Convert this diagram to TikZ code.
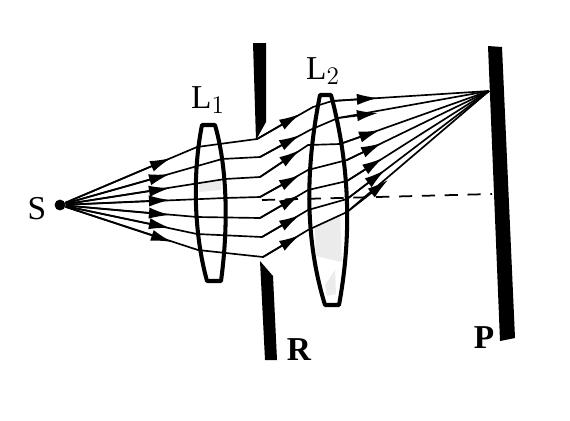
\documentclass[tikz,border=0pt]{standalone}
\usepackage{fontspec}
\setmainfont{Liberation Serif}
\usetikzlibrary{arrows.meta}
\tikzset{
    ray/.style={black, line width=0.95pt},
    raytip/.style={black, line width=0.95pt, -{Latex[length=12pt,width=6.4pt]}},
    lens/.style={draw=black, line width=2.3pt, line join=round, fill=white},
    stop/.style={fill=black, draw=none},
    patch/.style={fill=gray!16, draw=none},
    label/.style={font=\fontsize{19}{19}\selectfont, inner sep=0pt},
    blabel/.style={font=\fontsize{19}{19}\selectfont\bfseries, inner sep=0pt}
}
\begin{document}
\begin{tikzpicture}[x=0.02cm,y=-0.02cm]
\useasboundingbox (0,0) rectangle (570,420);
\fill[white] (0,0) rectangle (570,420);

\coordinate (F) at (489,91);
\coordinate (Da) at (262,200);
\coordinate (Db) at (492,194);
\node[circle, fill=black, inner sep=0pt, minimum size=6.2pt] (S) at (60,205) {};

% stops and screen
\fill[stop] (253,43) -- (266,43) -- (266,122) -- (256,140) -- cycle;
\fill[stop] (260,261) -- (273,276) -- (277,360) -- (265,360) -- cycle;
\fill[stop] (488,46) -- (502,47) -- (515,338) -- (500,341) -- cycle;

% lenses
\draw[lens] (202,125) .. controls (193,170) and (193,230) .. (207,281) -- (221,281)
    .. controls (228,230) and (228,170) .. (215,125) -- cycle;
\draw[lens] (320,95) .. controls (305,170) and (305,240) .. (325,305) -- (339,305)
    .. controls (351,240) and (351,170) .. (331,95) -- cycle;
\fill[patch] (199,182) -- (221,180) -- (221,190) -- (199,192) -- cycle;
\fill[patch] (315,228) -- (340,216) -- (342,262) -- (316,256) -- cycle;
\fill[patch] (325,285) -- (335,270) -- (336,294) -- (327,296) -- cycle;

% axis
\draw[line width=1pt, dash pattern=on 7.5pt off 5.5pt] (Da) -- (Db);

% rays
\foreach \ax/\ay/\bx/\by/\cx/\cy/\dx/\dy/\ex/\ey/\fx/\fy/\gx/\gy in {
    171/158/197/147/257/139/300/114/313/107/332/101/378/98,
    170/174/222/159/260/157/300/135/310/130/338/118/378/113,
    170/188/225/179/260/177/300/150/308/145/340/144/380/130,
    170/200/225/198/260/197/300/175/308/170/347/160/382/143,
    170/215/197/217/260/218/300/195/308/190/347/181/383/158,
    170/228/197/234/262/237/300/215/308/210/347/199/385/170,
    172/242/198/250/263/257/300/235/308/230/347/212/388/180}
{
    \draw[ray] (S) -- (\bx,\by) -- (\cx,\cy) -- (\ex,\ey) -- (\fx,\fy) -- (F);
    \draw[raytip] (S) -- (\ax,\ay);
    \draw[raytip] (\cx,\cy) -- (\dx,\dy);
    \draw[raytip] (\fx,\fy) -- (\gx,\gy);
}

% labels
\node[label] (lblS) at (37,209) {S};
\node[label] (lblA) at (208,100) {L$_1$};
\node[label] (lblB) at (323,71) {L$_2$};
\node[blabel] (lblR) at (299,350) {R};
\node[blabel] (lblP) at (484,338) {P};
\end{tikzpicture}
\end{document}
